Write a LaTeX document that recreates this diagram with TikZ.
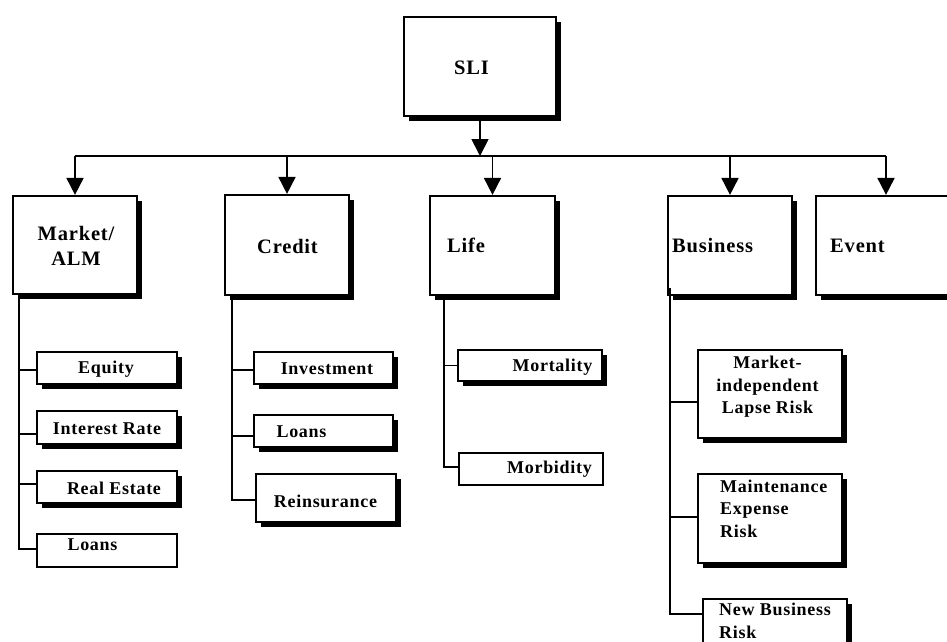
\documentclass[tikz,border=0pt]{standalone}
\usepackage{fontspec}
\setmainfont{Liberation Serif}
\newfontfamily\tracked[LetterSpace=4]{Liberation Serif}
\usetikzlibrary{arrows.meta,shadows}

\begin{document}
\begin{tikzpicture}[x=1pt,y=-1pt,
  boxline/.style={draw=black, line width=2.2pt, fill=white, inner sep=0pt},
  sbox/.style={boxline, general shadow={fill=black, shadow xshift=5pt, shadow yshift=-5pt}},
  dims/.style 2 args={minimum width=#1, minimum height=#2},
  conn/.style={draw=black, line width=1.8pt},
  arr/.style={-{Triangle[width=17pt,length=17pt]}},
  ptext/.style={font=\tracked\fontsize{20.5}{25}\selectfont\bfseries, inner sep=0pt, align=center},
  ctext/.style={font=\tracked\fontsize{18}{22.5}\selectfont\bfseries, inner sep=0pt},
]
\useasboundingbox (0,0) rectangle (947,641);
\fill[white] (0,0) rectangle (947,641);
\clip (0,0) rectangle (947,641);

% top of the hierarchy
\node[sbox, dims={152pt}{99pt}] (sli) at (480,66.5) {};
\node[ptext] (t-sli) at (471.5,68) {SLI};

% risk categories
\node[sbox, dims={124pt}{98pt}]  (mkt)  at (75,245) {};
\node[sbox, dims={124pt}{100pt}] (cred) at (287,245) {};
\node[sbox, dims={125pt}{99pt}]  (life) at (492.5,245.5) {};
\node[sbox, dims={124pt}{99pt}]  (bus)  at (730,245.5) {};
\node[sbox, dims={140pt}{99pt}]  (evt)  at (886,245.5) {};

\node[ptext] (t-mkt)  at (76,245.5) {Market/\\ALM};
\node[ptext] (t-cred) at (287.5,246) {Credit};
\node[ptext, anchor=west] (t-life) at (447,245) {Life};
\node[ptext, anchor=west] (t-bus)  at (672,246) {Business};
\node[ptext, anchor=west] (t-evt)  at (830,246) {Event};

% market / ALM sub-risks
\node[sbox, dims={140pt}{32pt}] (equity)     at (107,368) {};
\node[sbox, dims={140pt}{33pt}] (interest)   at (107,427.5) {};
\node[sbox, dims={140pt}{32pt}] (realestate) at (107,487) {};
\node[boxline, dims={140pt}{33pt}] (mloans)  at (107,550.5) {};
\node[ctext] (t-equity)     at (106,369) {Equity};
\node[ctext] (t-interest)   at (107,429) {Interest Rate};
\node[ctext] (t-realestate) at (114,488.5) {Real Estate};
\node[ctext] (t-mloans)     at (92.5,545) {Loans};

% credit sub-risks
\node[sbox, dims={139pt}{32pt}] (invest) at (323.5,368) {};
\node[sbox, dims={139pt}{32pt}] (cloans) at (323.5,431) {};
\node[sbox, dims={140pt}{48pt}] (reins)  at (326,498) {};
\node[ctext] (t-invest) at (327,369) {Investment};
\node[ctext] (t-cloans) at (301.5,432) {Loans};
\node[ctext] (t-reins)  at (325.5,501) {Reinsurance};

% life sub-risks
\node[sbox, dims={144pt}{31pt}]    (mort) at (530,365.5) {};
\node[boxline, dims={144pt}{32pt}] (morb) at (531,469) {};
\node[ctext] (t-mort) at (552.5,367) {Mortality};
\node[ctext] (t-morb) at (549.5,469.5) {Morbidity};

% business sub-risks
\node[sbox, dims={144pt}{88pt}] (mil) at (770,394) {};
\node[sbox, dims={144pt}{89pt}] (mer) at (770,518.5) {};
\node[sbox, dims={144pt}{60pt}] (nbr) at (775,629) {};
\node[ctext, align=center] (t-mil) at (767.5,387) {Market-\\independent\\Lapse Risk};
\node[ctext, align=left, anchor=west] (t-mer) at (720,508.5) {Maintenance\\Expense\\Risk};
\node[ctext, align=left, anchor=west] (t-nbr) at (719,621) {New Business\\Risk};

% distribution bar below the top box
\coordinate (bar) at (0,156);
\draw[conn, arr] (sli.south) -- (sli.south |- bar);
\draw[conn] (mkt.north |- bar) -- (evt.north |- bar);
\foreach \p in {mkt,cred,life,bus,evt}
  \draw[conn, arr] (\p.north |- bar) -- (\p.north);

% tree connectors to the sub-risks
\draw[conn] ([xshift=7pt]mkt.south west) |- ([yshift=-2pt]equity.west);
\draw[conn] ([xshift=7pt]mkt.south west) |- ([yshift=-6.5pt]interest.west);
\draw[conn] ([xshift=7pt]mkt.south west) |- ([yshift=3pt]realestate.west);
\draw[conn] ([xshift=7pt]mkt.south west) |- ([yshift=1.5pt]mloans.west);

\draw[conn] ([xshift=8pt]cred.south west) |- ([yshift=-2pt]invest.west);
\draw[conn] ([xshift=8pt]cred.south west) |- ([yshift=-5pt]cloans.west);
\draw[conn] ([xshift=8pt]cred.south west) |- ([yshift=-2pt]reins.west);

\draw[conn] ([xshift=15pt]life.south west) |- (mort.west);
\draw[conn] ([xshift=15pt]life.south west) |- ([yshift=2pt]morb.west);

\draw[conn] ([xshift=3pt,yshift=8pt]bus.south west) |- ([yshift=-8pt]mil.west);
\draw[conn] ([xshift=3pt,yshift=8pt]bus.south west) |- ([yshift=1.5pt]mer.west);
\draw[conn] ([xshift=3pt,yshift=8pt]bus.south west) |- ([yshift=15pt]nbr.west);
\end{tikzpicture}
\end{document}
